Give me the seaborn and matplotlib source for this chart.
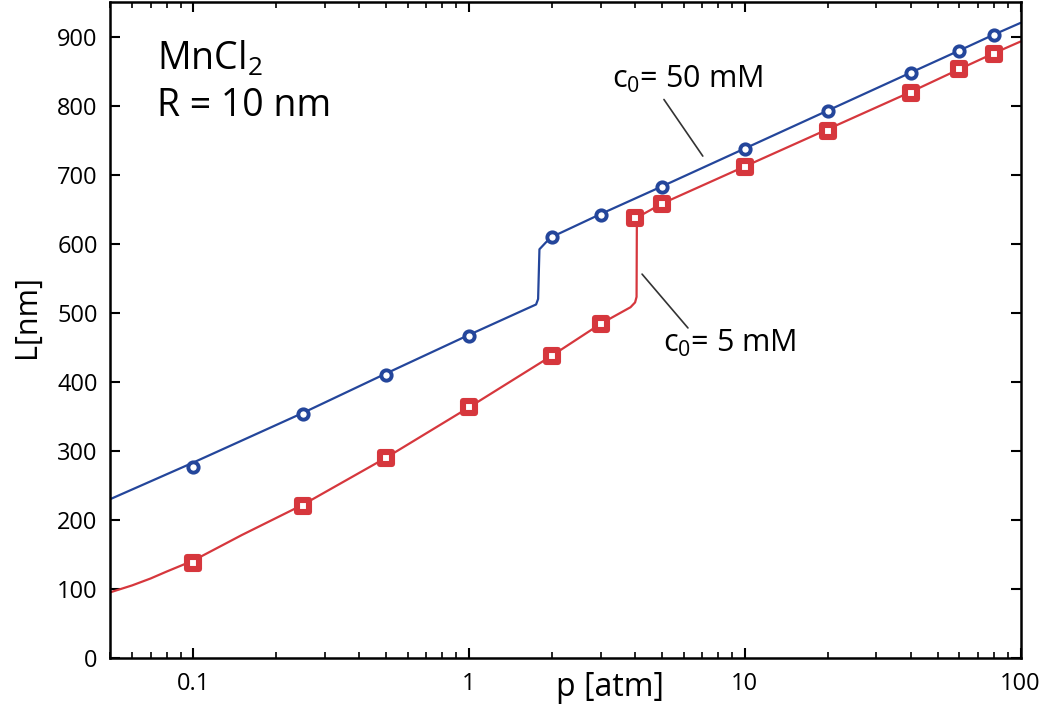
import numpy as np
import pandas as pd
import matplotlib
matplotlib.use("Agg")
import matplotlib.pyplot as plt
import seaborn as sns
from matplotlib.ticker import LogLocator, FixedLocator, FuncFormatter

p_blue = [0.1, 0.25, 0.5, 1, 2, 3, 5, 10, 20, 40, 60, 80]
L_blue = [277, 353, 410, 466, 610, 641, 682, 737, 792, 847, 879, 903]
p_red = [0.1, 0.25, 0.5, 1, 2, 3, 4, 5, 10, 20, 40, 60, 80]
L_red = [138, 220, 290, 363, 438, 483, 638, 657, 711, 764, 819, 853, 875]

# model curves (vertices)
curve_p_blue = [0.05, 0.1, 0.25, 0.5, 1, 1.6, 1.75, 1.78, 1.8, 1.9, 2, 3, 5, 10, 20, 40, 60, 80, 100]
curve_L_blue = [230, 283, 355, 412, 468, 505, 512, 520, 592, 602, 610, 643, 683, 738, 793, 848, 880, 903, 920]
curve_p_red = [0.05, 0.06, 0.07, 0.08, 0.1, 0.15, 0.25, 0.5, 1, 2, 3, 3.85, 4.0, 4.05, 4.06, 4.15, 5, 10, 20, 40, 60, 80, 100]
curve_L_red = [95, 105, 115, 125, 141, 178, 222, 290, 363, 438, 484, 508, 515, 523, 630, 640, 658, 712, 766, 820, 853, 876, 893]

blue = "#24469B"
red = "#D6373D"

sns.set_style("ticks")
plt.rcParams['font.family'] = ['Open Sans', 'DejaVu Sans']
plt.rcParams['text.color'] = 'black'
plt.rcParams['axes.labelcolor'] = 'black'
plt.rcParams['xtick.color'] = 'black'
plt.rcParams['ytick.color'] = 'black'
plt.rcParams['axes.edgecolor'] = 'black'
plt.rcParams['mathtext.fontset'] = 'custom'
plt.rcParams['mathtext.rm'] = 'Open Sans'

fig = plt.figure(figsize=(10.5, 7.19), dpi=100)
ax = fig.add_axes([0.105, 0.085, 0.867, 0.912])

blue_curve = pd.DataFrame({"p": curve_p_blue, "L": curve_L_blue})
red_curve = pd.DataFrame({"p": curve_p_red, "L": curve_L_red})
sns.lineplot(data=blue_curve, x="p", y="L", sort=False, estimator=None, color=blue, lw=1.6, ax=ax)
sns.lineplot(data=red_curve, x="p", y="L", sort=False, estimator=None, color=red, lw=1.6, ax=ax)

sns.scatterplot(x=p_blue, y=L_blue, marker="o", s=55, facecolor="white", edgecolor=blue,
                linewidth=2.8, ax=ax, zorder=5)
sns.scatterplot(x=p_red, y=L_red, marker="s", s=85, facecolor="white", edgecolor=red,
                linewidth=4.4, ax=ax, zorder=5)

ax.set_xscale("log")
ax.set_xlim(0.05, 100)
ax.set_ylim(0, 950)
ax.xaxis.set_major_locator(FixedLocator([0.1, 1, 10, 100]))
ax.xaxis.set_major_formatter(FuncFormatter(lambda v, pos: f"{v:g}"))
ax.xaxis.set_minor_locator(LogLocator(base=10, subs=np.arange(2, 10)))
ax.set_yticks(np.arange(0, 901, 100))

for s in ax.spines.values():
    s.set_linewidth(1.8)
    s.set_visible(True)
ax.tick_params(which="major", direction="in", length=7, width=1.5, top=True, right=True, labelsize=17)
ax.tick_params(axis="y", which="major", pad=9)
ax.tick_params(axis="x", which="major", pad=10)
ax.tick_params(which="minor", direction="in", length=4, width=1.2, top=True, right=True)

ax.set_xlabel("p [atm]", fontsize=23)
ax.xaxis.set_label_coords(0.549, -0.02)
ax.set_ylabel("L[nm]", fontsize=22)
ax.yaxis.set_label_coords(-0.075, 0.52)

ax.text(0.074, 867, "MnCl$_2$", fontsize=27, va="center", ha="left")
ax.text(0.074, 800, "R = 10 nm", fontsize=27, va="center", ha="left")

ax.text(3.3, 838, "c$_0$= 50 mM", fontsize=22, va="center", ha="left")
ax.plot([5.09, 7.04], [809, 727], color="#333333", lw=1.2)
ax.text(5.05, 455, "c$_0$= 5 mM", fontsize=22, va="center", ha="left")
ax.plot([4.24, 6.22], [556, 478], color="#333333", lw=1.2)

fig.savefig("out.png", dpi=100)
